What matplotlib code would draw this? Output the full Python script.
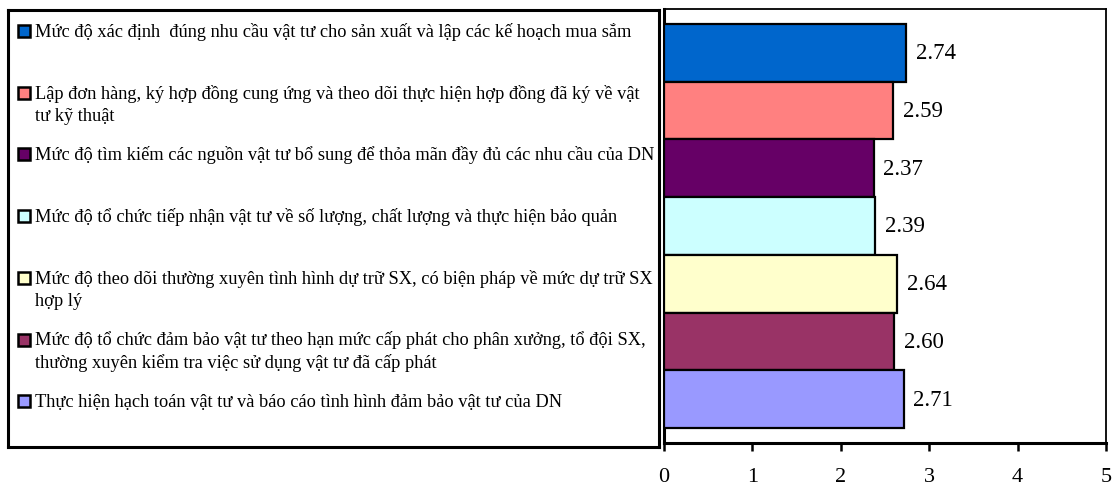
import matplotlib
matplotlib.use("Agg")
import matplotlib.pyplot as plt
from matplotlib.patches import Rectangle

plt.rcParams['font.family'] = ['Liberation Serif', 'DejaVu Serif']

categories = [
    "Mức độ xác định  đúng nhu cầu vật tư cho sản xuất và lập các kế hoạch mua sắm",
    "Lập đơn hàng, ký hợp đồng cung ứng và theo dõi thực hiện hợp đồng đã ký về vật\ntư kỹ thuật",
    "Mức độ tìm kiếm các nguồn vật tư bổ sung để thỏa mãn đầy đủ các nhu cầu của DN",
    "Mức độ tổ chức tiếp nhận vật tư về số lượng, chất lượng và thực hiện bảo quản",
    "Mức độ theo dõi thường xuyên tình hình dự trữ SX, có biện pháp về mức dự trữ SX\nhợp lý",
    "Mức độ tổ chức đảm bảo vật tư theo hạn mức cấp phát cho phân xưởng, tổ đội SX,\nthường xuyên kiểm tra việc sử dụng vật tư đã cấp phát",
    "Thực hiện hạch toán vật tư và báo cáo tình hình đảm bảo vật tư của DN",
]
values = [2.74, 2.59, 2.37, 2.39, 2.64, 2.60, 2.71]
colors = ["#0066CC", "#FF8080", "#660066", "#CCFFFF", "#FFFFCC", "#993366", "#9999FF"]
x_ticks = [0, 1, 2, 3, 4, 5]

W, H = 1117, 489
fig = plt.figure(figsize=(W / 100, H / 100), dpi=100)

def px_box(x0, y0, x1, y1):
    return [x0 / W, 1 - y1 / H, (x1 - x0) / W, (y1 - y0) / H]

# Bar chart: bars touch each other, with a margin above and below the stack
ax = fig.add_axes(px_box(664, 10, 1106, 444))
positions = list(range(len(values)))
bars = ax.barh(positions, values, height=1.0, color=colors,
               edgecolor="black", linewidth=1.6, zorder=3)
ax.bar_label(bars, labels=[f"{v:.2f}" for v in values], padding=7, fontsize=16.5)
margin = 0.26
ax.set_ylim(len(values) - 0.5 + margin, -0.5 - margin)
ax.set_xlim(0, 5)
ax.set_xticks(x_ticks)
ax.set_xticklabels([str(t) for t in x_ticks], fontsize=16)
ax.set_yticks([])
ax.tick_params(axis="x", direction="out", length=6, width=1.8, pad=11)
for side in ("top", "right"):
    ax.spines[side].set_linewidth(1.3)
for side in ("bottom", "left"):
    ax.spines[side].set_linewidth(2.2)

# Legend box on the left
lx0, ly0, lx1, ly1 = 8, 11, 659, 448
lax = fig.add_axes(px_box(lx0, ly0, lx1, ly1))
lax.set_xlim(0, lx1 - lx0)
lax.set_ylim(ly1 - ly0, 0)
lax.set_xticks([])
lax.set_yticks([])
for sp in lax.spines.values():
    sp.set_linewidth(2.2)

first_line = 21
step = 61.7
line_gap = 23
for i, (label, col) in enumerate(zip(categories, colors)):
    yc = first_line + i * step
    lax.add_patch(Rectangle((10, yc - 6), 12, 12, facecolor=col,
                            edgecolor="black", linewidth=1.8))
    for j, line in enumerate(label.split("\n")):
        lax.text(27, yc + j * line_gap, line, fontsize=13.2,
                 va="center", ha="left")

fig.savefig("out.png", dpi=100)
